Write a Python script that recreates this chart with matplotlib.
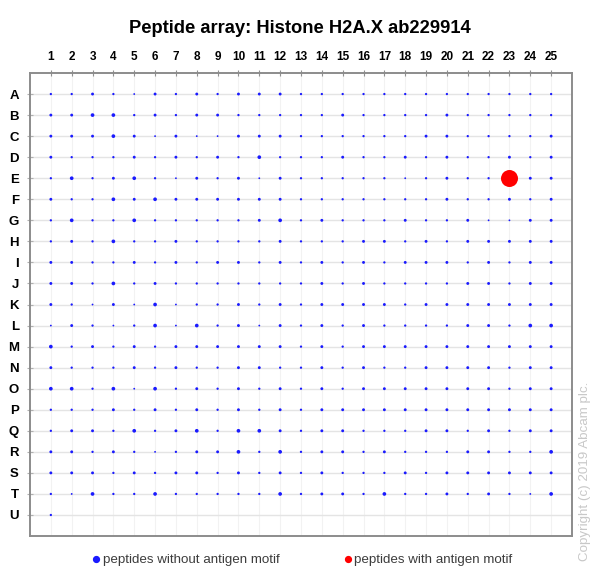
import numpy as np
import matplotlib
matplotlib.use('Agg')
import matplotlib.pyplot as plt
from matplotlib.lines import Line2D

plt.rcParams['font.family'] = ['Liberation Sans', 'DejaVu Sans']

# --- Data: spot signal level per row (1=faint .. 4=strong), columns 1..25
rows = list('ABCDEFGHIJKLMNOPQRSTU')
cols = list(range(1, 26))
signal = [
    [2,2,3,2,1,3,2,3,2,3,3,3, 2,2,2,2,2,2,2,2,2,2,2,2,2],  # A
    [3,3,4,4,2,3,2,3,3,2,2,2, 2,2,3,2,2,2,2,3,2,2,2,2,2],  # B
    [3,3,3,4,3,1,3,1,1,3,3,3, 2,2,2,2,2,2,3,3,2,2,2,2,3],  # C
    [3,2,2,2,3,2,3,2,3,2,4,2, 2,2,3,2,2,3,2,3,2,2,3,2,3],  # D
    [2,4,2,3,4,2,1,3,2,3,1,3, 2,2,2,2,2,1,2,3,2,2,0,3,3],  # E
    [3,2,2,4,3,4,3,3,3,3,3,3, 2,2,2,2,2,2,2,3,2,2,3,2,3],  # F
    [2,4,2,2,4,2,2,2,2,2,3,4, 2,3,2,2,2,3,2,2,3,1,1,3,3],  # G
    [2,3,2,4,2,2,3,2,2,2,2,3, 2,2,2,3,3,2,3,2,3,3,3,3,3],  # H
    [3,3,2,2,3,2,3,2,3,3,2,3, 2,3,2,3,2,3,3,3,2,3,2,3,3],  # I
    [3,3,2,4,2,3,2,2,2,2,2,2, 2,3,2,3,2,2,2,2,3,3,2,3,3],  # J
    [3,2,1,3,1,4,1,2,2,3,2,3, 2,3,3,3,3,2,3,3,3,3,3,3,3],  # K
    [1,3,2,1,2,4,1,4,2,3,1,3, 2,3,2,3,2,2,2,2,3,3,2,4,4],  # L
    [4,2,3,2,3,2,3,3,3,3,3,3, 2,3,2,3,3,3,3,3,3,3,3,3,3],  # M
    [3,2,2,2,3,2,3,2,2,3,3,2, 2,3,2,3,2,2,3,3,3,3,2,3,3],  # N
    [4,4,2,4,1,4,2,3,2,3,2,3, 2,3,2,3,3,3,3,3,3,3,2,3,3],  # O
    [2,2,2,3,2,3,2,3,2,3,2,3, 2,3,3,3,3,3,3,3,3,3,3,3,3],  # P
    [2,3,3,2,4,2,3,4,2,4,4,3, 2,3,3,2,2,2,3,3,2,3,2,3,3],  # Q
    [3,3,2,3,2,1,2,3,3,4,2,4, 2,3,3,2,3,2,2,2,3,3,2,2,4],  # R
    [3,3,3,2,3,2,3,3,2,3,2,3, 2,3,2,2,2,3,2,3,3,3,3,3,3],  # S
    [2,1,4,2,2,4,2,2,2,2,2,4, 2,3,3,2,4,2,2,3,2,3,2,1,4],  # T
    [2],                                                    # U
]
# peptides with antigen motif (column, row)
hit_cols = [23]
hit_rows = ['E']

# --- Figure
fig = plt.figure(figsize=(6.0, 5.77), dpi=100)
ax = fig.add_axes([0.05, 0.071, 0.9033, 0.8025])

xs, ys, ss = [], [], []
diam_px = {1: 1.8, 2: 2.3, 3: 2.9, 4: 3.7}
for ir, vals in enumerate(signal):
    for ic, v in enumerate(vals):
        if v == 0:
            continue
        xs.append(cols[ic])
        ys.append(ir + 1)
        ss.append((diam_px[v] * 0.72) ** 2)
ax.scatter(xs, ys, s=ss, c='#1a1aff', linewidths=0, zorder=3)

hx = hit_cols
hy = [rows.index(r) + 1 for r in hit_rows]
ax.scatter(hx, hy, s=(17 * 0.72) ** 2, c='#ff0000', linewidths=0, zorder=4)

ax.set_xlim(0, 26)
ax.set_ylim(22, 0)
ax.set_xticks(cols)
ax.set_xticklabels([str(c) for c in cols], fontsize=8.5, fontweight='bold')
ax.set_yticks(range(1, len(rows) + 1))
ax.set_yticklabels(rows, fontsize=9.5, fontweight='bold')
ax.xaxis.tick_top()
ax.tick_params(axis='x', direction='inout', length=4, color='#909090', pad=5)
ax.tick_params(axis='y', direction='inout', length=4, color='#b0b0b0', pad=6)

for c in cols:
    ax.axvline(c, color='#f2f2f2', lw=0.8, zorder=1)
for r in range(1, len(rows) + 1):
    ax.axhline(r, color='#e4e4e4', lw=1.0, zorder=1)

for side in ['left', 'bottom', 'top', 'right']:
    ax.spines[side].set_color('#8c8c8c')
    ax.spines[side].set_linewidth(1.4)

fig.text(0.5, 0.951, 'Peptide array: Histone H2A.X ab229914', ha='center', va='center',
         fontsize=13.2, fontweight='bold')

handles = [Line2D([], [], marker='o', ls='', color='#1a1aff', ms=4.2),
           Line2D([], [], marker='o', ls='', color='#ff0000', ms=4.2)]
fig.legend(handles, ['peptides without antigen motif', 'peptides with antigen motif'],
           loc='center', bbox_to_anchor=(0.502, 0.029), ncol=2, frameon=False,
           handletextpad=0.0, columnspacing=4.6, handlelength=1.0,
           fontsize=9.6, labelcolor='#3c3c3c')

fig.text(0.975, 0.027, 'Copyright (c) 2019 Abcam plc.', rotation=90, ha='center', va='bottom',
         fontsize=9.6, color='#c8c8c8')

fig.savefig('out.png', dpi=100)
